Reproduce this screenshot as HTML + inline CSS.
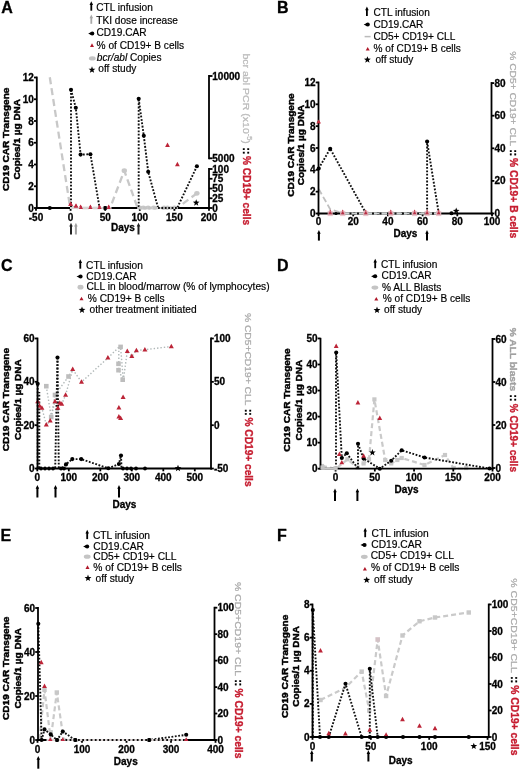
<!DOCTYPE html>
<html><head><meta charset="utf-8"><style>
html,body{margin:0;padding:0;background:#fff;width:520px;height:770px;overflow:hidden}
svg{display:block;filter:blur(0.4px)}
text{font-family:"Liberation Sans", sans-serif}
</style></head><body>
<svg width="520" height="770" viewBox="0 0 520 770" font-family='"Liberation Sans", sans-serif'>
<rect width="520" height="770" fill="#fff"/>
<text x="1.20" y="13.00" font-size="16" font-weight="bold" text-anchor="start" fill="#000"  stroke="#000" stroke-width="0.3">A</text>
<line x1="91.30" y1="3.80" x2="91.30" y2="10.70" stroke="#000" stroke-width="1.8" stroke-linecap="butt"/>
<polygon points="91.30,1.30 89.55,5.10 93.05,5.10" fill="#000"/>
<text x="96.30" y="10.60" font-size="10.15" font-weight="normal" text-anchor="start" fill="#000"  stroke="#000" stroke-width="0.18">CTL infusion</text>
<line x1="91.30" y1="16.90" x2="91.30" y2="23.80" stroke="#a8a8a8" stroke-width="1.8" stroke-linecap="butt"/>
<polygon points="91.30,14.40 89.55,18.20 93.05,18.20" fill="#a8a8a8"/>
<text x="96.30" y="23.70" font-size="10.15" font-weight="normal" text-anchor="start" fill="#000"  stroke="#000" stroke-width="0.18">TKI dose increase</text>
<path d="M88.20,33.60 L91.50,32.00 L91.50,35.20 Z" fill="#000"/>
<circle cx="92.30" cy="33.60" r="2.0" fill="#000"/>
<text x="96.50" y="36.40" font-size="10.15" font-weight="normal" text-anchor="start" fill="#000"  stroke="#000" stroke-width="0.18">CD19.CAR</text>
<polygon points="92.00,43.37 90.00,46.97 94.00,46.97" fill="#b0182a"/>
<text x="96.60" y="48.80" font-size="10.15" font-weight="normal" text-anchor="start" fill="#000"  stroke="#000" stroke-width="0.18">% of CD19+ B cells</text>
<ellipse cx="92.30" cy="58.40" rx="3.4" ry="2.1" fill="#c4c4c4"/>
<text x="96.80" y="61.20" font-size="10.15" font-weight="normal" text-anchor="start" fill="#000"  stroke="#000" stroke-width="0.18"><tspan font-style="italic">bcr/abl</tspan> Copies</text>
<polygon points="92.00,66.30 92.89,68.68 95.42,68.79 93.44,70.37 94.12,72.81 92.00,71.41 89.88,72.81 90.56,70.37 88.58,68.79 91.11,68.68" fill="#000"/>
<text x="98.30" y="72.40" font-size="10.15" font-weight="normal" text-anchor="start" fill="#000"  stroke="#000" stroke-width="0.18">off study</text>
<text transform="translate(8.90,139.30) rotate(-90)" font-size="9.3" font-weight="bold" text-anchor="middle" stroke="#000" stroke-width="0.45" textLength="103.4" lengthAdjust="spacingAndGlyphs">CD19 CAR Transgene</text>
<text transform="translate(19.90,139.30) rotate(-90)" font-size="9.3" font-weight="bold" text-anchor="middle" stroke="#000" stroke-width="0.45" textLength="80.6" lengthAdjust="spacingAndGlyphs">Copies/1 µg DNA</text>
<polyline points="49.80,77.30 70.00,206.50 77.52,208.00 110.04,208.00 124.30,170.70 137.60,208.00 177.17,208.00 196.90,193.30" fill="none" stroke="#c8c8c8" stroke-width="2.3" stroke-linecap="butt" stroke-linejoin="round" stroke-dasharray="7 4"/>
<ellipse cx="139.80" cy="207.6" rx="2.6" ry="2.0" fill="#c8c8c8"/>
<ellipse cx="143.26" cy="207.6" rx="2.6" ry="2.0" fill="#c8c8c8"/>
<ellipse cx="148.10" cy="207.6" rx="2.6" ry="2.0" fill="#c8c8c8"/>
<ellipse cx="153.64" cy="207.6" rx="2.6" ry="2.0" fill="#c8c8c8"/>
<ellipse cx="164.02" cy="207.6" rx="2.6" ry="2.0" fill="#c8c8c8"/>
<ellipse cx="167.48" cy="207.6" rx="2.6" ry="2.0" fill="#c8c8c8"/>
<ellipse cx="174.40" cy="207.6" rx="2.6" ry="2.0" fill="#c8c8c8"/>
<ellipse cx="124.3" cy="170.7" rx="2.7" ry="2.4" fill="#c8c8c8"/>
<ellipse cx="196.9" cy="193.3" rx="2.7" ry="2.4" fill="#c8c8c8"/>
<polyline points="71.00,207.00 71.00,89.80" fill="none" stroke="#111" stroke-width="1.9" stroke-linecap="butt" stroke-linejoin="round" stroke-dasharray="1.8 1.6"/>
<polyline points="71.00,89.80 75.80,107.70 80.60,154.60 90.40,154.20 99.50,207.50" fill="none" stroke="#111" stroke-width="1.9" stroke-linecap="butt" stroke-linejoin="round" stroke-dasharray="1.8 1.6"/>
<polyline points="138.70,207.00 138.70,98.80" fill="none" stroke="#111" stroke-width="1.9" stroke-linecap="butt" stroke-linejoin="round" stroke-dasharray="1.8 1.6"/>
<polyline points="138.70,98.80 143.80,135.80 148.20,171.80 158.00,207.50" fill="none" stroke="#111" stroke-width="1.9" stroke-linecap="butt" stroke-linejoin="round" stroke-dasharray="1.8 1.6"/>
<polyline points="177.40,207.50 196.90,166.30" fill="none" stroke="#111" stroke-width="1.9" stroke-linecap="butt" stroke-linejoin="round" stroke-dasharray="1.8 1.6"/>
<circle cx="71.00" cy="89.80" r="2.05" fill="#000"/>
<circle cx="75.80" cy="107.70" r="2.05" fill="#000"/>
<circle cx="80.60" cy="154.60" r="2.05" fill="#000"/>
<circle cx="90.40" cy="154.20" r="2.05" fill="#000"/>
<circle cx="138.70" cy="98.80" r="2.05" fill="#000"/>
<circle cx="143.80" cy="135.80" r="2.05" fill="#000"/>
<circle cx="148.20" cy="171.80" r="2.05" fill="#000"/>
<circle cx="196.90" cy="166.30" r="2.05" fill="#000"/>
<circle cx="49.80" cy="208.00" r="2.05" fill="#000"/>
<circle cx="105.20" cy="208.00" r="2.05" fill="#000"/>
<polygon points="70.60,201.52 68.20,205.84 73.00,205.84" fill="#bc2437"/>
<polygon points="76.00,203.32 73.60,207.64 78.40,207.64" fill="#bc2437"/>
<polygon points="80.60,204.52 78.20,208.84 83.00,208.84" fill="#bc2437"/>
<polygon points="90.40,204.52 88.00,208.84 92.80,208.84" fill="#bc2437"/>
<polygon points="99.50,204.52 97.10,208.84 101.90,208.84" fill="#bc2437"/>
<polygon points="108.70,204.52 106.30,208.84 111.10,208.84" fill="#bc2437"/>
<polygon points="167.50,142.62 165.10,146.94 169.90,146.94" fill="#bc2437"/>
<polygon points="177.40,161.82 175.00,166.14 179.80,166.14" fill="#bc2437"/>
<polygon points="196.20,199.30 197.06,201.61 199.53,201.72 197.60,203.25 198.26,205.63 196.20,204.27 194.14,205.63 194.80,203.25 192.87,201.72 195.34,201.61" fill="#000"/>
<line x1="36.80" y1="76.60" x2="36.80" y2="208.90" stroke="#000" stroke-width="1.8" stroke-linecap="butt"/>
<line x1="34.00" y1="77.50" x2="36.80" y2="77.50" stroke="#000" stroke-width="1.8" stroke-linecap="butt"/>
<text x="33.80" y="81.05" font-size="10" font-weight="bold" text-anchor="end" fill="#000"  stroke="#000" stroke-width="0.3">12</text>
<line x1="34.00" y1="99.25" x2="36.80" y2="99.25" stroke="#000" stroke-width="1.8" stroke-linecap="butt"/>
<text x="33.80" y="102.80" font-size="10" font-weight="bold" text-anchor="end" fill="#000"  stroke="#000" stroke-width="0.3">10</text>
<line x1="34.00" y1="121.00" x2="36.80" y2="121.00" stroke="#000" stroke-width="1.8" stroke-linecap="butt"/>
<text x="33.80" y="124.55" font-size="10" font-weight="bold" text-anchor="end" fill="#000"  stroke="#000" stroke-width="0.3">8</text>
<line x1="34.00" y1="142.75" x2="36.80" y2="142.75" stroke="#000" stroke-width="1.8" stroke-linecap="butt"/>
<text x="33.80" y="146.30" font-size="10" font-weight="bold" text-anchor="end" fill="#000"  stroke="#000" stroke-width="0.3">6</text>
<line x1="34.00" y1="164.50" x2="36.80" y2="164.50" stroke="#000" stroke-width="1.8" stroke-linecap="butt"/>
<text x="33.80" y="168.05" font-size="10" font-weight="bold" text-anchor="end" fill="#000"  stroke="#000" stroke-width="0.3">4</text>
<line x1="34.00" y1="186.25" x2="36.80" y2="186.25" stroke="#000" stroke-width="1.8" stroke-linecap="butt"/>
<text x="33.80" y="189.80" font-size="10" font-weight="bold" text-anchor="end" fill="#000"  stroke="#000" stroke-width="0.3">2</text>
<line x1="34.00" y1="208.00" x2="36.80" y2="208.00" stroke="#000" stroke-width="1.8" stroke-linecap="butt"/>
<text x="33.80" y="211.55" font-size="10" font-weight="bold" text-anchor="end" fill="#000"  stroke="#000" stroke-width="0.3">0</text>
<line x1="35.90" y1="208.00" x2="209.90" y2="208.00" stroke="#000" stroke-width="1.8" stroke-linecap="butt"/>
<line x1="36.00" y1="208.00" x2="36.00" y2="210.80" stroke="#000" stroke-width="1.8" stroke-linecap="butt"/>
<text x="36.00" y="220.50" font-size="10" font-weight="bold" text-anchor="middle" fill="#000"  stroke="#000" stroke-width="0.3">-50</text>
<line x1="70.60" y1="208.00" x2="70.60" y2="210.80" stroke="#000" stroke-width="1.8" stroke-linecap="butt"/>
<text x="70.60" y="220.50" font-size="10" font-weight="bold" text-anchor="middle" fill="#000"  stroke="#000" stroke-width="0.3">0</text>
<line x1="105.20" y1="208.00" x2="105.20" y2="210.80" stroke="#000" stroke-width="1.8" stroke-linecap="butt"/>
<text x="105.20" y="220.50" font-size="10" font-weight="bold" text-anchor="middle" fill="#000"  stroke="#000" stroke-width="0.3">50</text>
<line x1="139.80" y1="208.00" x2="139.80" y2="210.80" stroke="#000" stroke-width="1.8" stroke-linecap="butt"/>
<text x="139.80" y="220.50" font-size="10" font-weight="bold" text-anchor="middle" fill="#000"  stroke="#000" stroke-width="0.3">100</text>
<line x1="174.40" y1="208.00" x2="174.40" y2="210.80" stroke="#000" stroke-width="1.8" stroke-linecap="butt"/>
<text x="174.40" y="220.50" font-size="10" font-weight="bold" text-anchor="middle" fill="#000"  stroke="#000" stroke-width="0.3">150</text>
<line x1="209.00" y1="208.00" x2="209.00" y2="210.80" stroke="#000" stroke-width="1.8" stroke-linecap="butt"/>
<text x="209.00" y="220.50" font-size="10" font-weight="bold" text-anchor="middle" fill="#000"  stroke="#000" stroke-width="0.3">200</text>
<line x1="209.00" y1="75.10" x2="209.00" y2="159.20" stroke="#000" stroke-width="1.8" stroke-linecap="butt"/>
<line x1="209.00" y1="76.00" x2="212.50" y2="76.00" stroke="#000" stroke-width="1.8" stroke-linecap="butt"/>
<line x1="209.00" y1="158.30" x2="212.50" y2="158.30" stroke="#000" stroke-width="1.8" stroke-linecap="butt"/>
<text x="212.30" y="79.60" font-size="10" font-weight="bold" text-anchor="start" fill="#000"  stroke="#000" stroke-width="0.3">10000</text>
<text x="212.30" y="161.90" font-size="10" font-weight="bold" text-anchor="start" fill="#000"  stroke="#000" stroke-width="0.3">5000</text>
<line x1="209.00" y1="168.10" x2="209.00" y2="208.90" stroke="#000" stroke-width="1.8" stroke-linecap="butt"/>
<line x1="209.00" y1="169.00" x2="212.50" y2="169.00" stroke="#000" stroke-width="1.8" stroke-linecap="butt"/>
<text x="212.30" y="172.60" font-size="10" font-weight="bold" text-anchor="start" fill="#000"  stroke="#000" stroke-width="0.3">100</text>
<line x1="209.00" y1="178.75" x2="212.50" y2="178.75" stroke="#000" stroke-width="1.8" stroke-linecap="butt"/>
<text x="212.30" y="182.35" font-size="10" font-weight="bold" text-anchor="start" fill="#000"  stroke="#000" stroke-width="0.3">75</text>
<line x1="209.00" y1="188.50" x2="212.50" y2="188.50" stroke="#000" stroke-width="1.8" stroke-linecap="butt"/>
<text x="212.30" y="192.10" font-size="10" font-weight="bold" text-anchor="start" fill="#000"  stroke="#000" stroke-width="0.3">50</text>
<line x1="209.00" y1="198.25" x2="212.50" y2="198.25" stroke="#000" stroke-width="1.8" stroke-linecap="butt"/>
<text x="212.30" y="201.85" font-size="10" font-weight="bold" text-anchor="start" fill="#000"  stroke="#000" stroke-width="0.3">25</text>
<line x1="209.00" y1="208.00" x2="212.50" y2="208.00" stroke="#000" stroke-width="1.8" stroke-linecap="butt"/>
<text x="212.30" y="211.60" font-size="10" font-weight="bold" text-anchor="start" fill="#000"  stroke="#000" stroke-width="0.3">0</text>
<line x1="70.00" y1="208.00" x2="111.50" y2="208.00" stroke="#d8d2d2" stroke-width="2.0" stroke-linecap="butt"/>
<line x1="137.20" y1="208.00" x2="177.80" y2="208.00" stroke="#d0d0d0" stroke-width="2.0" stroke-linecap="butt"/>
<ellipse cx="140.50" cy="208" rx="2.2" ry="1.7" fill="#c4c4c4"/>
<ellipse cx="145.00" cy="208" rx="2.2" ry="1.7" fill="#c4c4c4"/>
<ellipse cx="149.50" cy="208" rx="2.2" ry="1.7" fill="#c4c4c4"/>
<ellipse cx="155.00" cy="208" rx="2.2" ry="1.7" fill="#c4c4c4"/>
<ellipse cx="163.00" cy="208" rx="2.2" ry="1.7" fill="#c4c4c4"/>
<ellipse cx="167.00" cy="208" rx="2.2" ry="1.7" fill="#c4c4c4"/>
<ellipse cx="171.00" cy="208" rx="2.2" ry="1.7" fill="#c4c4c4"/>
<polyline points="158.00,208.00 177.40,208.00" fill="none" stroke="#111" stroke-width="1.9" stroke-linecap="butt" stroke-linejoin="round" stroke-dasharray="1.8 1.6"/>
<circle cx="105.20" cy="208.00" r="1.9" fill="#000"/>
<polygon points="70.60,201.80 68.45,205.67 72.75,205.67" fill="#c02840"/>
<polygon points="76.00,203.90 73.85,207.77 78.15,207.77" fill="#c02840"/>
<polygon points="80.90,205.20 78.75,209.07 83.05,209.07" fill="#c02840"/>
<polygon points="90.40,205.20 88.25,209.07 92.55,209.07" fill="#c02840"/>
<polygon points="99.50,205.20 97.35,209.07 101.65,209.07" fill="#c02840"/>
<polygon points="108.70,205.20 106.55,209.07 110.85,209.07" fill="#c02840"/>
<text transform="translate(243.20,53.40) rotate(90)" font-size="9.8" font-weight="normal" fill="#bababa" stroke="#bababa" stroke-width="0.25" textLength="90.40" lengthAdjust="spacingAndGlyphs">bcr abl PCR (x10<tspan font-size="6.8" dy="-3.4">-5</tspan><tspan dy="3.4">)</tspan></text>
<text transform="translate(243.20,147.60) rotate(90)" font-size="10" font-weight="bold" fill="#000" stroke="#000" stroke-width="0.35">::</text>
<text transform="translate(243.20,155.90) rotate(90)" font-size="10" font-weight="bold" fill="#c61d30" stroke="#c61d30" stroke-width="0.35" textLength="69.30" lengthAdjust="spacingAndGlyphs">% CD19+ cells</text>
<text x="111.00" y="231.20" font-size="10" font-weight="bold" text-anchor="start" fill="#000"  stroke="#000" stroke-width="0.3">Days</text>
<line x1="71.00" y1="225.30" x2="71.00" y2="234.50" stroke="#222" stroke-width="2.0" stroke-linecap="butt"/>
<polygon points="71.00,222.80 69.25,226.60 72.75,226.60" fill="#222"/>
<line x1="75.90" y1="225.30" x2="75.90" y2="234.50" stroke="#a0a0a0" stroke-width="2.0" stroke-linecap="butt"/>
<polygon points="75.90,222.80 74.15,226.60 77.65,226.60" fill="#a0a0a0"/>
<line x1="138.50" y1="225.30" x2="138.50" y2="234.50" stroke="#222" stroke-width="2.0" stroke-linecap="butt"/>
<polygon points="138.50,222.80 136.75,226.60 140.25,226.60" fill="#222"/>
<text x="277.10" y="12.80" font-size="16" font-weight="bold" text-anchor="start" fill="#000"  stroke="#000" stroke-width="0.3">B</text>
<line x1="366.90" y1="9.00" x2="366.90" y2="15.90" stroke="#000" stroke-width="1.8" stroke-linecap="butt"/>
<polygon points="366.90,6.50 365.15,10.30 368.65,10.30" fill="#000"/>
<text x="373.50" y="15.80" font-size="10.1" font-weight="normal" text-anchor="start" fill="#000"  stroke="#000" stroke-width="0.18">CTL infusion</text>
<path d="M363.70,24.60 L367.00,23.00 L367.00,26.20 Z" fill="#000"/>
<circle cx="367.80" cy="24.60" r="2.0" fill="#000"/>
<text x="373.40" y="27.60" font-size="10.1" font-weight="normal" text-anchor="start" fill="#000"  stroke="#000" stroke-width="0.18">CD19.CAR</text>
<line x1="364.60" y1="36.60" x2="370.60" y2="36.60" stroke="#bbbbbb" stroke-width="1.5" stroke-linecap="butt"/>
<text x="373.40" y="39.60" font-size="10.1" font-weight="normal" text-anchor="start" fill="#000"  stroke="#000" stroke-width="0.18">CD5+ CD19+ CLL</text>
<polygon points="367.70,46.97 365.70,50.57 369.70,50.57" fill="#b0182a"/>
<text x="373.60" y="51.60" font-size="10.1" font-weight="normal" text-anchor="start" fill="#000"  stroke="#000" stroke-width="0.18">% of CD19+ B cells</text>
<polygon points="367.40,56.20 368.29,58.58 370.82,58.69 368.84,60.27 369.52,62.71 367.40,61.31 365.28,62.71 365.96,60.27 363.98,58.69 366.51,58.58" fill="#000"/>
<text x="375.40" y="63.20" font-size="10.1" font-weight="normal" text-anchor="start" fill="#000"  stroke="#000" stroke-width="0.18">off study</text>
<text transform="translate(293.60,145.00) rotate(-90)" font-size="9.3" font-weight="bold" text-anchor="middle" stroke="#000" stroke-width="0.45" textLength="103.4" lengthAdjust="spacingAndGlyphs">CD19 CAR Transgene</text>
<text transform="translate(304.40,145.00) rotate(-90)" font-size="9.3" font-weight="bold" text-anchor="middle" stroke="#000" stroke-width="0.45" textLength="80.6" lengthAdjust="spacingAndGlyphs">Copies/1 µg DNA</text>
<polyline points="318.70,189.00 330.20,209.20 342.00,213.00" fill="none" stroke="#c0c0c0" stroke-width="1.8" stroke-linecap="butt" stroke-linejoin="round" stroke-dasharray="6 3"/>
<polyline points="318.70,168.50 330.20,148.70 365.80,213.00" fill="none" stroke="#111" stroke-width="1.9" stroke-linecap="butt" stroke-linejoin="round" stroke-dasharray="1.8 1.6"/>
<polyline points="427.10,213.00 427.10,141.50" fill="none" stroke="#111" stroke-width="1.9" stroke-linecap="butt" stroke-linejoin="round" stroke-dasharray="1.8 1.6"/>
<polyline points="427.10,141.50 438.70,213.00" fill="none" stroke="#111" stroke-width="1.9" stroke-linecap="butt" stroke-linejoin="round" stroke-dasharray="1.8 1.6"/>
<polygon points="330.20,209.52 327.80,213.84 332.60,213.84" fill="#bc2437"/>
<polygon points="342.70,209.52 340.30,213.84 345.10,213.84" fill="#bc2437"/>
<polygon points="365.80,209.52 363.40,213.84 368.20,213.84" fill="#bc2437"/>
<polygon points="390.80,209.52 388.40,213.84 393.20,213.84" fill="#bc2437"/>
<polygon points="414.60,209.52 412.20,213.84 417.00,213.84" fill="#bc2437"/>
<polygon points="427.10,209.52 424.70,213.84 429.50,213.84" fill="#bc2437"/>
<polygon points="438.70,209.52 436.30,213.84 441.10,213.84" fill="#bc2437"/>
<polygon points="318.50,119.66 316.40,123.44 320.60,123.44" fill="#bc2437"/>
<circle cx="336.00" cy="213.50" r="1.6" fill="#000"/>
<circle cx="354.20" cy="213.50" r="1.6" fill="#000"/>
<circle cx="378.00" cy="213.50" r="1.6" fill="#000"/>
<circle cx="402.00" cy="213.50" r="1.6" fill="#000"/>
<circle cx="408.00" cy="213.50" r="1.6" fill="#000"/>
<circle cx="420.00" cy="213.50" r="1.6" fill="#000"/>
<circle cx="433.00" cy="213.50" r="1.6" fill="#000"/>
<circle cx="451.50" cy="213.50" r="1.6" fill="#000"/>
<circle cx="318.70" cy="168.50" r="2.05" fill="#000"/>
<circle cx="330.20" cy="148.70" r="2.05" fill="#000"/>
<circle cx="427.10" cy="141.50" r="2.05" fill="#000"/>
<circle cx="451.50" cy="213.20" r="2.05" fill="#000"/>
<polygon points="456.20,207.50 457.06,209.81 459.53,209.92 457.60,211.45 458.26,213.83 456.20,212.47 454.14,213.83 454.80,211.45 452.87,209.92 455.34,209.81" fill="#000"/>
<line x1="318.50" y1="81.60" x2="318.50" y2="214.40" stroke="#000" stroke-width="1.8" stroke-linecap="butt"/>
<line x1="315.70" y1="82.46" x2="318.50" y2="82.46" stroke="#000" stroke-width="1.8" stroke-linecap="butt"/>
<text x="315.50" y="86.01" font-size="10" font-weight="bold" text-anchor="end" fill="#000"  stroke="#000" stroke-width="0.3">12</text>
<line x1="315.70" y1="104.30" x2="318.50" y2="104.30" stroke="#000" stroke-width="1.8" stroke-linecap="butt"/>
<text x="315.50" y="107.85" font-size="10" font-weight="bold" text-anchor="end" fill="#000"  stroke="#000" stroke-width="0.3">10</text>
<line x1="315.70" y1="126.14" x2="318.50" y2="126.14" stroke="#000" stroke-width="1.8" stroke-linecap="butt"/>
<text x="315.50" y="129.69" font-size="10" font-weight="bold" text-anchor="end" fill="#000"  stroke="#000" stroke-width="0.3">8</text>
<line x1="315.70" y1="147.98" x2="318.50" y2="147.98" stroke="#000" stroke-width="1.8" stroke-linecap="butt"/>
<text x="315.50" y="151.53" font-size="10" font-weight="bold" text-anchor="end" fill="#000"  stroke="#000" stroke-width="0.3">6</text>
<line x1="315.70" y1="169.82" x2="318.50" y2="169.82" stroke="#000" stroke-width="1.8" stroke-linecap="butt"/>
<text x="315.50" y="173.37" font-size="10" font-weight="bold" text-anchor="end" fill="#000"  stroke="#000" stroke-width="0.3">4</text>
<line x1="315.70" y1="191.66" x2="318.50" y2="191.66" stroke="#000" stroke-width="1.8" stroke-linecap="butt"/>
<text x="315.50" y="195.21" font-size="10" font-weight="bold" text-anchor="end" fill="#000"  stroke="#000" stroke-width="0.3">2</text>
<line x1="315.70" y1="213.50" x2="318.50" y2="213.50" stroke="#000" stroke-width="1.8" stroke-linecap="butt"/>
<text x="315.50" y="217.05" font-size="10" font-weight="bold" text-anchor="end" fill="#000"  stroke="#000" stroke-width="0.3">0</text>
<line x1="317.60" y1="213.50" x2="492.90" y2="213.50" stroke="#000" stroke-width="1.8" stroke-linecap="butt"/>
<line x1="318.50" y1="213.50" x2="318.50" y2="216.30" stroke="#000" stroke-width="1.8" stroke-linecap="butt"/>
<text x="318.50" y="225.40" font-size="10" font-weight="bold" text-anchor="middle" fill="#000"  stroke="#000" stroke-width="0.3">0</text>
<line x1="353.20" y1="213.50" x2="353.20" y2="216.30" stroke="#000" stroke-width="1.8" stroke-linecap="butt"/>
<text x="353.20" y="225.40" font-size="10" font-weight="bold" text-anchor="middle" fill="#000"  stroke="#000" stroke-width="0.3">20</text>
<line x1="387.90" y1="213.50" x2="387.90" y2="216.30" stroke="#000" stroke-width="1.8" stroke-linecap="butt"/>
<text x="387.90" y="225.40" font-size="10" font-weight="bold" text-anchor="middle" fill="#000"  stroke="#000" stroke-width="0.3">40</text>
<line x1="422.60" y1="213.50" x2="422.60" y2="216.30" stroke="#000" stroke-width="1.8" stroke-linecap="butt"/>
<text x="422.60" y="225.40" font-size="10" font-weight="bold" text-anchor="middle" fill="#000"  stroke="#000" stroke-width="0.3">60</text>
<line x1="457.30" y1="213.50" x2="457.30" y2="216.30" stroke="#000" stroke-width="1.8" stroke-linecap="butt"/>
<text x="457.30" y="225.40" font-size="10" font-weight="bold" text-anchor="middle" fill="#000"  stroke="#000" stroke-width="0.3">80</text>
<line x1="492.00" y1="213.50" x2="492.00" y2="216.30" stroke="#000" stroke-width="1.8" stroke-linecap="butt"/>
<text x="492.00" y="225.40" font-size="10" font-weight="bold" text-anchor="middle" fill="#000"  stroke="#000" stroke-width="0.3">100</text>
<line x1="491.50" y1="82.10" x2="491.50" y2="214.40" stroke="#000" stroke-width="1.8" stroke-linecap="butt"/>
<line x1="491.50" y1="83.10" x2="494.30" y2="83.10" stroke="#000" stroke-width="1.8" stroke-linecap="butt"/>
<text x="494.40" y="86.65" font-size="10" font-weight="bold" text-anchor="start" fill="#000"  stroke="#000" stroke-width="0.3">80</text>
<line x1="491.50" y1="115.70" x2="494.30" y2="115.70" stroke="#000" stroke-width="1.8" stroke-linecap="butt"/>
<text x="494.40" y="119.25" font-size="10" font-weight="bold" text-anchor="start" fill="#000"  stroke="#000" stroke-width="0.3">60</text>
<line x1="491.50" y1="148.30" x2="494.30" y2="148.30" stroke="#000" stroke-width="1.8" stroke-linecap="butt"/>
<text x="494.40" y="151.85" font-size="10" font-weight="bold" text-anchor="start" fill="#000"  stroke="#000" stroke-width="0.3">40</text>
<line x1="491.50" y1="180.90" x2="494.30" y2="180.90" stroke="#000" stroke-width="1.8" stroke-linecap="butt"/>
<text x="494.40" y="184.45" font-size="10" font-weight="bold" text-anchor="start" fill="#000"  stroke="#000" stroke-width="0.3">20</text>
<line x1="491.50" y1="213.50" x2="494.30" y2="213.50" stroke="#000" stroke-width="1.8" stroke-linecap="butt"/>
<text x="494.40" y="217.05" font-size="10" font-weight="bold" text-anchor="start" fill="#000"  stroke="#000" stroke-width="0.3">0</text>
<polygon points="318.70,119.46 316.60,123.24 320.80,123.24" fill="#c83040"/>
<line x1="340.50" y1="213.50" x2="441.00" y2="213.50" stroke="#cfd4d4" stroke-width="2.0" stroke-linecap="butt"/>
<polyline points="342.00,213.50 440.00,213.50" fill="none" stroke="#111" stroke-width="1.9" stroke-linecap="butt" stroke-linejoin="round" stroke-dasharray="2 5.5"/>
<rect x="327.60" y="210.9" width="5.2" height="5.2" fill="#e8b8c0" opacity="0.8"/>
<polygon points="330.20,210.88 328.30,214.30 332.10,214.30" fill="#b83045"/>
<rect x="340.10" y="210.9" width="5.2" height="5.2" fill="#e8b8c0" opacity="0.8"/>
<polygon points="342.70,210.88 340.80,214.30 344.60,214.30" fill="#b83045"/>
<rect x="363.20" y="210.9" width="5.2" height="5.2" fill="#e8b8c0" opacity="0.8"/>
<polygon points="365.80,210.88 363.90,214.30 367.70,214.30" fill="#b83045"/>
<rect x="388.20" y="210.9" width="5.2" height="5.2" fill="#e8b8c0" opacity="0.8"/>
<polygon points="390.80,210.88 388.90,214.30 392.70,214.30" fill="#b83045"/>
<rect x="412.00" y="210.9" width="5.2" height="5.2" fill="#e8b8c0" opacity="0.8"/>
<polygon points="414.60,210.88 412.70,214.30 416.50,214.30" fill="#b83045"/>
<rect x="424.50" y="210.9" width="5.2" height="5.2" fill="#e8b8c0" opacity="0.8"/>
<polygon points="427.10,210.88 425.20,214.30 429.00,214.30" fill="#b83045"/>
<rect x="436.10" y="210.9" width="5.2" height="5.2" fill="#e8b8c0" opacity="0.8"/>
<polygon points="438.70,210.88 436.80,214.30 440.60,214.30" fill="#b83045"/>
<text transform="translate(510.30,51.20) rotate(90)" font-size="9.3" font-weight="normal" fill="#ababab" stroke="#ababab" stroke-width="0.25" textLength="95.00" lengthAdjust="spacingAndGlyphs">% CD5+ CD19+ CLL</text>
<text transform="translate(510.30,149.50) rotate(90)" font-size="10" font-weight="bold" fill="#000" stroke="#000" stroke-width="0.35">::</text>
<text transform="translate(510.30,158.00) rotate(90)" font-size="10" font-weight="bold" fill="#c61d30" stroke="#c61d30" stroke-width="0.35" textLength="80.30" lengthAdjust="spacingAndGlyphs">% CD19+ B cells</text>
<text x="393.50" y="237.00" font-size="10" font-weight="bold" text-anchor="start" fill="#000"  stroke="#000" stroke-width="0.3">Days</text>
<line x1="318.90" y1="232.50" x2="318.90" y2="240.60" stroke="#000" stroke-width="2.0" stroke-linecap="butt"/>
<polygon points="318.90,230.00 317.15,233.80 320.65,233.80" fill="#000"/>
<line x1="427.00" y1="232.50" x2="427.00" y2="240.60" stroke="#000" stroke-width="2.0" stroke-linecap="butt"/>
<polygon points="427.00,230.00 425.25,233.80 428.75,233.80" fill="#000"/>
<text x="0.90" y="271.30" font-size="16" font-weight="bold" text-anchor="start" fill="#000"  stroke="#000" stroke-width="0.3">C</text>
<line x1="80.30" y1="261.80" x2="80.30" y2="268.70" stroke="#000" stroke-width="1.8" stroke-linecap="butt"/>
<polygon points="80.30,259.30 78.55,263.10 82.05,263.10" fill="#000"/>
<text x="86.10" y="268.60" font-size="10.2" font-weight="normal" text-anchor="start" fill="#000"  stroke="#000" stroke-width="0.18">CTL infusion</text>
<path d="M76.50,276.50 L79.80,274.90 L79.80,278.10 Z" fill="#000"/>
<circle cx="80.60" cy="276.50" r="2.0" fill="#000"/>
<text x="86.30" y="279.70" font-size="10.2" font-weight="normal" text-anchor="start" fill="#000"  stroke="#000" stroke-width="0.18">CD19.CAR</text>
<ellipse cx="80.50" cy="287.20" rx="3.0" ry="2.4" fill="#c4c4c4"/>
<text x="86.50" y="290.30" font-size="10.2" font-weight="normal" text-anchor="start" fill="#000"  stroke="#000" stroke-width="0.18">CLL in blood/marrow (% of lymphocytes)</text>
<polygon points="81.50,296.77 79.50,300.37 83.50,300.37" fill="#b0182a"/>
<text x="87.80" y="302.40" font-size="10.2" font-weight="normal" text-anchor="start" fill="#000"  stroke="#000" stroke-width="0.18">% CD19+ B cells</text>
<polygon points="82.00,306.40 82.89,308.78 85.42,308.89 83.44,310.47 84.12,312.91 82.00,311.51 79.88,312.91 80.56,310.47 78.58,308.89 81.11,308.78" fill="#000"/>
<text x="89.60" y="313.10" font-size="10.2" font-weight="normal" text-anchor="start" fill="#000"  stroke="#000" stroke-width="0.18">other treatment initiated</text>
<text transform="translate(9.10,399.60) rotate(-90)" font-size="9.3" font-weight="bold" text-anchor="middle" stroke="#000" stroke-width="0.45" textLength="103.4" lengthAdjust="spacingAndGlyphs">CD19 CAR Transgene</text>
<text transform="translate(20.90,399.60) rotate(-90)" font-size="9.3" font-weight="bold" text-anchor="middle" stroke="#000" stroke-width="0.45" textLength="80.6" lengthAdjust="spacingAndGlyphs">Copies/1 µg DNA</text>
<polyline points="37.70,401.50 39.60,406.00 41.90,408.00 46.30,424.80 50.20,420.80 55.00,401.50 57.90,408.00 59.80,403.00 61.70,404.00 65.60,395.00 72.70,369.40 81.50,382.00 107.90,357.90 118.80,347.30" fill="none" stroke="#b0b8b8" stroke-width="1.4" stroke-linecap="butt" stroke-linejoin="round" stroke-dasharray="1.4 2.0"/>
<polyline points="46.30,386.20 51.20,417.00 55.00,395.00 68.50,376.50 72.70,369.40" fill="none" stroke="#b0b8b8" stroke-width="1.4" stroke-linecap="butt" stroke-linejoin="round" stroke-dasharray="1.4 2.0"/>
<polyline points="118.80,347.30 118.80,363.70 118.80,370.40 123.30,380.40 120.60,346.90" fill="none" stroke="#b0b8b8" stroke-width="1.4" stroke-linecap="butt" stroke-linejoin="round" stroke-dasharray="1.4 2.0"/>
<polyline points="123.30,380.40 127.30,351.20 131.80,356.40 136.40,350.50 144.90,349.70 171.30,346.50" fill="none" stroke="#b0b8b8" stroke-width="1.4" stroke-linecap="butt" stroke-linejoin="round" stroke-dasharray="1.4 2.0"/>
<rect x="44.00" y="383.90" width="4.6" height="4.6" fill="#bdbdbd"/>
<rect x="48.90" y="414.70" width="4.6" height="4.6" fill="#bdbdbd"/>
<rect x="52.70" y="392.70" width="4.6" height="4.6" fill="#bdbdbd"/>
<rect x="66.20" y="374.20" width="4.6" height="4.6" fill="#bdbdbd"/>
<rect x="118.30" y="344.60" width="4.6" height="4.6" fill="#bdbdbd"/>
<rect x="116.20" y="361.50" width="4.6" height="4.6" fill="#bdbdbd"/>
<rect x="116.20" y="367.90" width="4.6" height="4.6" fill="#bdbdbd"/>
<rect x="120.40" y="377.40" width="4.6" height="4.6" fill="#bdbdbd"/>
<polyline points="37.70,468.00 37.70,383.80" fill="none" stroke="#111" stroke-width="1.9" stroke-linecap="butt" stroke-linejoin="round" stroke-dasharray="1.8 1.6"/>
<polyline points="39.30,468.00 39.30,392.00" fill="none" stroke="#111" stroke-width="1.9" stroke-linecap="butt" stroke-linejoin="round" stroke-dasharray="1.8 1.6"/>
<polyline points="55.20,468.00 57.50,357.50" fill="none" stroke="#111" stroke-width="1.9" stroke-linecap="butt" stroke-linejoin="round" stroke-dasharray="1.8 1.6"/>
<polyline points="58.80,468.00 57.50,357.50" fill="none" stroke="#111" stroke-width="1.9" stroke-linecap="butt" stroke-linejoin="round" stroke-dasharray="1.8 1.6"/>
<polyline points="62.00,468.00 66.00,464.40 72.30,459.10 81.20,459.10 108.30,468.30 118.90,464.00 121.00,455.50 121.50,468.00" fill="none" stroke="#111" stroke-width="1.9" stroke-linecap="butt" stroke-linejoin="round" stroke-dasharray="1.8 1.6"/>
<circle cx="37.70" cy="383.80" r="2.05" fill="#000"/>
<circle cx="57.50" cy="357.50" r="2.05" fill="#000"/>
<circle cx="66.00" cy="464.40" r="2.05" fill="#000"/>
<circle cx="72.30" cy="459.10" r="2.05" fill="#000"/>
<circle cx="81.20" cy="459.10" r="2.05" fill="#000"/>
<circle cx="108.30" cy="468.30" r="2.05" fill="#000"/>
<circle cx="118.90" cy="464.00" r="2.05" fill="#000"/>
<circle cx="121.00" cy="455.50" r="2.05" fill="#000"/>
<circle cx="41.00" cy="468.50" r="1.9" fill="#000"/>
<circle cx="45.00" cy="468.50" r="1.9" fill="#000"/>
<circle cx="49.00" cy="468.50" r="1.9" fill="#000"/>
<circle cx="53.00" cy="468.50" r="1.9" fill="#000"/>
<circle cx="61.00" cy="468.50" r="1.9" fill="#000"/>
<circle cx="64.00" cy="468.50" r="1.9" fill="#000"/>
<circle cx="123.00" cy="468.50" r="1.9" fill="#000"/>
<circle cx="127.00" cy="468.50" r="1.9" fill="#000"/>
<circle cx="131.00" cy="468.50" r="1.9" fill="#000"/>
<circle cx="136.00" cy="468.50" r="1.9" fill="#000"/>
<circle cx="145.00" cy="468.50" r="1.9" fill="#000"/>
<polygon points="37.70,398.71 35.20,403.21 40.20,403.21" fill="#bc2437"/>
<polygon points="39.60,403.21 37.10,407.71 42.10,407.71" fill="#bc2437"/>
<polygon points="41.90,405.21 39.40,409.71 44.40,409.71" fill="#bc2437"/>
<polygon points="46.30,422.01 43.80,426.51 48.80,426.51" fill="#bc2437"/>
<polygon points="50.20,418.01 47.70,422.51 52.70,422.51" fill="#bc2437"/>
<polygon points="55.00,398.71 52.50,403.21 57.50,403.21" fill="#bc2437"/>
<polygon points="57.90,405.21 55.40,409.71 60.40,409.71" fill="#bc2437"/>
<polygon points="59.80,400.21 57.30,404.71 62.30,404.71" fill="#bc2437"/>
<polygon points="61.70,401.21 59.20,405.71 64.20,405.71" fill="#bc2437"/>
<polygon points="65.60,392.21 63.10,396.71 68.10,396.71" fill="#bc2437"/>
<polygon points="72.70,366.61 70.20,371.11 75.20,371.11" fill="#bc2437"/>
<polygon points="81.50,379.21 79.00,383.71 84.00,383.71" fill="#bc2437"/>
<polygon points="107.90,355.11 105.40,359.61 110.40,359.61" fill="#bc2437"/>
<polygon points="127.30,348.41 124.80,352.91 129.80,352.91" fill="#bc2437"/>
<polygon points="131.80,353.61 129.30,358.11 134.30,358.11" fill="#bc2437"/>
<polygon points="136.40,347.71 133.90,352.21 138.90,352.21" fill="#bc2437"/>
<polygon points="144.90,346.91 142.40,351.41 147.40,351.41" fill="#bc2437"/>
<polygon points="171.30,343.71 168.80,348.21 173.80,348.21" fill="#bc2437"/>
<polygon points="123.10,394.51 120.60,399.01 125.60,399.01" fill="#bc2437"/>
<polygon points="118.90,405.01 116.40,409.51 121.40,409.51" fill="#bc2437"/>
<polygon points="118.90,413.91 116.40,418.41 121.40,418.41" fill="#bc2437"/>
<polygon points="120.60,415.61 118.10,420.11 123.10,420.11" fill="#bc2437"/>
<polygon points="178.00,464.70 178.89,467.08 181.42,467.19 179.44,468.77 180.12,471.21 178.00,469.81 175.88,471.21 176.56,468.77 174.58,467.19 177.11,467.08" fill="#000"/>
<line x1="37.50" y1="337.60" x2="37.50" y2="469.40" stroke="#000" stroke-width="1.8" stroke-linecap="butt"/>
<line x1="34.70" y1="338.48" x2="37.50" y2="338.48" stroke="#000" stroke-width="1.8" stroke-linecap="butt"/>
<text x="34.50" y="342.03" font-size="10" font-weight="bold" text-anchor="end" fill="#000"  stroke="#000" stroke-width="0.3">60</text>
<line x1="34.70" y1="381.82" x2="37.50" y2="381.82" stroke="#000" stroke-width="1.8" stroke-linecap="butt"/>
<text x="34.50" y="385.37" font-size="10" font-weight="bold" text-anchor="end" fill="#000"  stroke="#000" stroke-width="0.3">40</text>
<line x1="34.70" y1="425.16" x2="37.50" y2="425.16" stroke="#000" stroke-width="1.8" stroke-linecap="butt"/>
<text x="34.50" y="428.71" font-size="10" font-weight="bold" text-anchor="end" fill="#000"  stroke="#000" stroke-width="0.3">20</text>
<line x1="34.70" y1="468.50" x2="37.50" y2="468.50" stroke="#000" stroke-width="1.8" stroke-linecap="butt"/>
<text x="34.50" y="472.05" font-size="10" font-weight="bold" text-anchor="end" fill="#000"  stroke="#000" stroke-width="0.3">0</text>
<line x1="36.60" y1="468.50" x2="211.90" y2="468.50" stroke="#000" stroke-width="1.8" stroke-linecap="butt"/>
<line x1="37.30" y1="468.50" x2="37.30" y2="471.30" stroke="#000" stroke-width="1.8" stroke-linecap="butt"/>
<text x="37.30" y="481.20" font-size="10" font-weight="bold" text-anchor="middle" fill="#000"  stroke="#000" stroke-width="0.3">0</text>
<line x1="68.80" y1="468.50" x2="68.80" y2="471.30" stroke="#000" stroke-width="1.8" stroke-linecap="butt"/>
<text x="68.80" y="481.20" font-size="10" font-weight="bold" text-anchor="middle" fill="#000"  stroke="#000" stroke-width="0.3">100</text>
<line x1="100.30" y1="468.50" x2="100.30" y2="471.30" stroke="#000" stroke-width="1.8" stroke-linecap="butt"/>
<text x="100.30" y="481.20" font-size="10" font-weight="bold" text-anchor="middle" fill="#000"  stroke="#000" stroke-width="0.3">200</text>
<line x1="131.80" y1="468.50" x2="131.80" y2="471.30" stroke="#000" stroke-width="1.8" stroke-linecap="butt"/>
<text x="131.80" y="481.20" font-size="10" font-weight="bold" text-anchor="middle" fill="#000"  stroke="#000" stroke-width="0.3">300</text>
<line x1="163.30" y1="468.50" x2="163.30" y2="471.30" stroke="#000" stroke-width="1.8" stroke-linecap="butt"/>
<text x="163.30" y="481.20" font-size="10" font-weight="bold" text-anchor="middle" fill="#000"  stroke="#000" stroke-width="0.3">400</text>
<line x1="194.80" y1="468.50" x2="194.80" y2="471.30" stroke="#000" stroke-width="1.8" stroke-linecap="butt"/>
<text x="194.80" y="481.20" font-size="10" font-weight="bold" text-anchor="middle" fill="#000"  stroke="#000" stroke-width="0.3">500</text>
<line x1="211.00" y1="337.60" x2="211.00" y2="469.40" stroke="#000" stroke-width="1.8" stroke-linecap="butt"/>
<line x1="211.00" y1="338.50" x2="213.80" y2="338.50" stroke="#000" stroke-width="1.8" stroke-linecap="butt"/>
<text x="213.90" y="342.05" font-size="10" font-weight="bold" text-anchor="start" fill="#000"  stroke="#000" stroke-width="0.3">100</text>
<line x1="211.00" y1="381.85" x2="213.80" y2="381.85" stroke="#000" stroke-width="1.8" stroke-linecap="butt"/>
<text x="213.90" y="385.40" font-size="10" font-weight="bold" text-anchor="start" fill="#000"  stroke="#000" stroke-width="0.3">50</text>
<line x1="211.00" y1="425.20" x2="213.80" y2="425.20" stroke="#000" stroke-width="1.8" stroke-linecap="butt"/>
<text x="213.90" y="428.75" font-size="10" font-weight="bold" text-anchor="start" fill="#000"  stroke="#000" stroke-width="0.3">0</text>
<line x1="211.00" y1="468.55" x2="213.80" y2="468.55" stroke="#000" stroke-width="1.8" stroke-linecap="butt"/>
<text x="213.90" y="472.10" font-size="10" font-weight="bold" text-anchor="start" fill="#000"  stroke="#000" stroke-width="0.3">-50</text>
<text transform="translate(244.60,312.90) rotate(90)" font-size="9.3" font-weight="normal" fill="#ababab" stroke="#ababab" stroke-width="0.25" textLength="92.50" lengthAdjust="spacingAndGlyphs">% CD5+CD19+ CLL</text>
<text transform="translate(244.60,408.90) rotate(90)" font-size="10" font-weight="bold" fill="#000" stroke="#000" stroke-width="0.35">::</text>
<text transform="translate(244.60,417.50) rotate(90)" font-size="10" font-weight="bold" fill="#c61d30" stroke="#c61d30" stroke-width="0.35" textLength="69.10" lengthAdjust="spacingAndGlyphs">% CD19+ cells</text>
<text x="112.50" y="507.60" font-size="10" font-weight="bold" text-anchor="start" fill="#000"  stroke="#000" stroke-width="0.3">Days</text>
<line x1="37.40" y1="487.50" x2="37.40" y2="497.50" stroke="#000" stroke-width="2.0" stroke-linecap="butt"/>
<polygon points="37.40,485.00 35.65,488.80 39.15,488.80" fill="#000"/>
<line x1="55.50" y1="487.50" x2="55.50" y2="497.50" stroke="#000" stroke-width="2.0" stroke-linecap="butt"/>
<polygon points="55.50,485.00 53.75,488.80 57.25,488.80" fill="#000"/>
<line x1="119.00" y1="487.50" x2="119.00" y2="497.50" stroke="#000" stroke-width="2.0" stroke-linecap="butt"/>
<polygon points="119.00,485.00 117.25,488.80 120.75,488.80" fill="#000"/>
<text x="277.10" y="271.20" font-size="16" font-weight="bold" text-anchor="start" fill="#000"  stroke="#000" stroke-width="0.3">D</text>
<line x1="375.20" y1="261.30" x2="375.20" y2="268.20" stroke="#000" stroke-width="1.8" stroke-linecap="butt"/>
<polygon points="375.20,258.80 373.45,262.60 376.95,262.60" fill="#000"/>
<text x="380.90" y="268.10" font-size="10.15" font-weight="normal" text-anchor="start" fill="#000"  stroke="#000" stroke-width="0.18">CTL infusion</text>
<path d="M371.10,276.30 L374.40,274.70 L374.40,277.90 Z" fill="#000"/>
<circle cx="375.20" cy="276.30" r="2.0" fill="#000"/>
<text x="381.60" y="279.30" font-size="10.15" font-weight="normal" text-anchor="start" fill="#000"  stroke="#000" stroke-width="0.18">CD19.CAR</text>
<ellipse cx="374.90" cy="287.60" rx="3.4" ry="2.1" fill="#c4c4c4"/>
<text x="382.00" y="290.90" font-size="10.15" font-weight="normal" text-anchor="start" fill="#000"  stroke="#000" stroke-width="0.18">% ALL Blasts</text>
<polygon points="376.30,296.97 374.30,300.57 378.30,300.57" fill="#b0182a"/>
<text x="382.80" y="302.40" font-size="10.15" font-weight="normal" text-anchor="start" fill="#000"  stroke="#000" stroke-width="0.18">% of CD19+ B cells</text>
<polygon points="377.00,306.60 377.89,308.98 380.42,309.09 378.44,310.67 379.12,313.11 377.00,311.71 374.88,313.11 375.56,310.67 373.58,309.09 376.11,308.98" fill="#000"/>
<text x="384.10" y="313.40" font-size="10.15" font-weight="normal" text-anchor="start" fill="#000"  stroke="#000" stroke-width="0.18">off study</text>
<text transform="translate(289.90,400.10) rotate(-90)" font-size="9.3" font-weight="bold" text-anchor="middle" stroke="#000" stroke-width="0.45" textLength="103.4" lengthAdjust="spacingAndGlyphs">CD19 CAR Transgene</text>
<text transform="translate(301.80,400.10) rotate(-90)" font-size="9.3" font-weight="bold" text-anchor="middle" stroke="#000" stroke-width="0.45" textLength="80.6" lengthAdjust="spacingAndGlyphs">Copies/1 µg DNA</text>
<polyline points="322.00,466.00 336.00,468.70 347.50,459.30 357.60,468.00 363.60,463.40 369.00,459.30 374.40,399.40 385.20,460.00 391.20,463.40 397.30,460.00 401.70,458.00 424.50,465.00 445.00,455.00 453.70,468.50 466.20,468.50" fill="none" stroke="#cacaca" stroke-width="2.2" stroke-linecap="butt" stroke-linejoin="round" stroke-dasharray="5 3"/>
<rect x="319.90" y="463.90" width="4.2" height="4.2" fill="#c8c8c8"/>
<rect x="345.40" y="457.20" width="4.2" height="4.2" fill="#c8c8c8"/>
<rect x="355.50" y="465.40" width="4.2" height="4.2" fill="#c8c8c8"/>
<rect x="361.50" y="461.30" width="4.2" height="4.2" fill="#c8c8c8"/>
<rect x="366.90" y="457.20" width="4.2" height="4.2" fill="#c8c8c8"/>
<rect x="372.30" y="397.30" width="4.2" height="4.2" fill="#c8c8c8"/>
<rect x="383.10" y="457.90" width="4.2" height="4.2" fill="#c8c8c8"/>
<rect x="389.10" y="461.30" width="4.2" height="4.2" fill="#c8c8c8"/>
<rect x="395.20" y="457.90" width="4.2" height="4.2" fill="#c8c8c8"/>
<rect x="399.60" y="455.90" width="4.2" height="4.2" fill="#c8c8c8"/>
<rect x="422.40" y="462.90" width="4.2" height="4.2" fill="#c8c8c8"/>
<rect x="442.90" y="452.90" width="4.2" height="4.2" fill="#c8c8c8"/>
<rect x="451.60" y="465.90" width="4.2" height="4.2" fill="#c8c8c8"/>
<rect x="464.10" y="465.90" width="4.2" height="4.2" fill="#c8c8c8"/>
<polyline points="336.00,468.00 336.00,352.50" fill="none" stroke="#111" stroke-width="1.9" stroke-linecap="butt" stroke-linejoin="round" stroke-dasharray="1.8 1.6"/>
<polyline points="336.20,352.50 341.80,458.00" fill="none" stroke="#111" stroke-width="1.9" stroke-linecap="butt" stroke-linejoin="round" stroke-dasharray="1.8 1.6"/>
<polyline points="341.80,458.00 346.80,453.30 357.60,468.00" fill="none" stroke="#111" stroke-width="1.9" stroke-linecap="butt" stroke-linejoin="round" stroke-dasharray="1.8 1.6"/>
<polyline points="358.00,468.00 358.00,443.80" fill="none" stroke="#111" stroke-width="1.9" stroke-linecap="butt" stroke-linejoin="round" stroke-dasharray="1.8 1.6"/>
<polyline points="358.00,443.80 363.60,458.60 379.80,468.70 391.20,460.70 401.70,450.30 424.50,457.50 489.50,468.50" fill="none" stroke="#111" stroke-width="1.9" stroke-linecap="butt" stroke-linejoin="round" stroke-dasharray="1.8 1.6"/>
<circle cx="336.20" cy="352.50" r="2.05" fill="#000"/>
<circle cx="341.80" cy="458.00" r="2.05" fill="#000"/>
<circle cx="346.80" cy="453.30" r="2.05" fill="#000"/>
<circle cx="358.00" cy="443.80" r="2.05" fill="#000"/>
<circle cx="363.60" cy="458.60" r="2.05" fill="#000"/>
<circle cx="379.80" cy="468.70" r="2.05" fill="#000"/>
<circle cx="391.20" cy="460.70" r="2.05" fill="#000"/>
<circle cx="401.70" cy="450.30" r="2.05" fill="#000"/>
<circle cx="424.50" cy="457.50" r="2.05" fill="#000"/>
<circle cx="489.50" cy="468.50" r="2.05" fill="#000"/>
<polygon points="336.20,343.62 333.80,347.94 338.60,347.94" fill="#bc2437"/>
<polygon points="339.40,451.62 337.00,455.94 341.80,455.94" fill="#bc2437"/>
<polygon points="341.80,460.02 339.40,464.34 344.20,464.34" fill="#bc2437"/>
<polygon points="357.90,400.12 355.50,404.44 360.30,404.44" fill="#bc2437"/>
<polygon points="363.60,453.32 361.20,457.64 366.00,457.64" fill="#bc2437"/>
<polygon points="379.80,415.62 377.40,419.94 382.20,419.94" fill="#bc2437"/>
<polygon points="372.40,449.10 373.26,451.41 375.73,451.52 373.80,453.05 374.46,455.43 372.40,454.07 370.34,455.43 371.00,453.05 369.07,451.52 371.54,451.41" fill="#000"/>
<line x1="320.50" y1="337.85" x2="320.50" y2="469.60" stroke="#000" stroke-width="1.8" stroke-linecap="butt"/>
<line x1="317.70" y1="338.45" x2="320.50" y2="338.45" stroke="#000" stroke-width="1.8" stroke-linecap="butt"/>
<text x="317.50" y="342.00" font-size="10" font-weight="bold" text-anchor="end" fill="#000"  stroke="#000" stroke-width="0.3">50</text>
<line x1="317.70" y1="364.50" x2="320.50" y2="364.50" stroke="#000" stroke-width="1.8" stroke-linecap="butt"/>
<text x="317.50" y="368.05" font-size="10" font-weight="bold" text-anchor="end" fill="#000"  stroke="#000" stroke-width="0.3">40</text>
<line x1="317.70" y1="390.55" x2="320.50" y2="390.55" stroke="#000" stroke-width="1.8" stroke-linecap="butt"/>
<text x="317.50" y="394.10" font-size="10" font-weight="bold" text-anchor="end" fill="#000"  stroke="#000" stroke-width="0.3">30</text>
<line x1="317.70" y1="416.60" x2="320.50" y2="416.60" stroke="#000" stroke-width="1.8" stroke-linecap="butt"/>
<text x="317.50" y="420.15" font-size="10" font-weight="bold" text-anchor="end" fill="#000"  stroke="#000" stroke-width="0.3">20</text>
<line x1="317.70" y1="442.65" x2="320.50" y2="442.65" stroke="#000" stroke-width="1.8" stroke-linecap="butt"/>
<text x="317.50" y="446.20" font-size="10" font-weight="bold" text-anchor="end" fill="#000"  stroke="#000" stroke-width="0.3">10</text>
<line x1="317.70" y1="468.70" x2="320.50" y2="468.70" stroke="#000" stroke-width="1.8" stroke-linecap="butt"/>
<text x="317.50" y="472.25" font-size="10" font-weight="bold" text-anchor="end" fill="#000"  stroke="#000" stroke-width="0.3">0</text>
<line x1="319.60" y1="468.70" x2="493.40" y2="468.70" stroke="#000" stroke-width="1.8" stroke-linecap="butt"/>
<line x1="335.60" y1="468.70" x2="335.60" y2="471.50" stroke="#000" stroke-width="1.8" stroke-linecap="butt"/>
<text x="335.60" y="481.20" font-size="10" font-weight="bold" text-anchor="middle" fill="#000"  stroke="#000" stroke-width="0.3">0</text>
<line x1="374.83" y1="468.70" x2="374.83" y2="471.50" stroke="#000" stroke-width="1.8" stroke-linecap="butt"/>
<text x="374.83" y="481.20" font-size="10" font-weight="bold" text-anchor="middle" fill="#000"  stroke="#000" stroke-width="0.3">50</text>
<line x1="414.05" y1="468.70" x2="414.05" y2="471.50" stroke="#000" stroke-width="1.8" stroke-linecap="butt"/>
<text x="414.05" y="481.20" font-size="10" font-weight="bold" text-anchor="middle" fill="#000"  stroke="#000" stroke-width="0.3">100</text>
<line x1="453.28" y1="468.70" x2="453.28" y2="471.50" stroke="#000" stroke-width="1.8" stroke-linecap="butt"/>
<text x="453.28" y="481.20" font-size="10" font-weight="bold" text-anchor="middle" fill="#000"  stroke="#000" stroke-width="0.3">150</text>
<line x1="492.50" y1="468.70" x2="492.50" y2="471.50" stroke="#000" stroke-width="1.8" stroke-linecap="butt"/>
<text x="492.50" y="481.20" font-size="10" font-weight="bold" text-anchor="middle" fill="#000"  stroke="#000" stroke-width="0.3">200</text>
<line x1="492.50" y1="338.00" x2="492.50" y2="469.60" stroke="#000" stroke-width="1.8" stroke-linecap="butt"/>
<line x1="492.50" y1="339.00" x2="495.30" y2="339.00" stroke="#000" stroke-width="1.8" stroke-linecap="butt"/>
<text x="495.40" y="342.55" font-size="10" font-weight="bold" text-anchor="start" fill="#000"  stroke="#000" stroke-width="0.3">60</text>
<line x1="492.50" y1="382.00" x2="495.30" y2="382.00" stroke="#000" stroke-width="1.8" stroke-linecap="butt"/>
<text x="495.40" y="385.55" font-size="10" font-weight="bold" text-anchor="start" fill="#000"  stroke="#000" stroke-width="0.3">40</text>
<line x1="492.50" y1="425.00" x2="495.30" y2="425.00" stroke="#000" stroke-width="1.8" stroke-linecap="butt"/>
<text x="495.40" y="428.55" font-size="10" font-weight="bold" text-anchor="start" fill="#000"  stroke="#000" stroke-width="0.3">20</text>
<line x1="492.50" y1="468.00" x2="495.30" y2="468.00" stroke="#000" stroke-width="1.8" stroke-linecap="butt"/>
<text x="495.40" y="471.55" font-size="10" font-weight="bold" text-anchor="start" fill="#000"  stroke="#000" stroke-width="0.3">0</text>
<line x1="321.50" y1="468.70" x2="336.00" y2="468.70" stroke="#c8c8c8" stroke-width="2.0" stroke-linecap="butt"/>
<rect x="320.40" y="465.40" width="4.2" height="4.2" fill="#c4c4c4"/>
<rect x="333.50" y="466.10" width="4.2" height="4.2" fill="#c4c4c4"/>
<text transform="translate(509.50,327.70) rotate(90)" font-size="9.6" font-weight="bold" fill="#a0a0a0" stroke="#a0a0a0" stroke-width="0.35" textLength="63.40" lengthAdjust="spacingAndGlyphs">% ALL blasts</text>
<text transform="translate(509.50,394.60) rotate(90)" font-size="10" font-weight="bold" fill="#000" stroke="#000" stroke-width="0.35">::</text>
<text transform="translate(509.50,403.70) rotate(90)" font-size="10" font-weight="bold" fill="#c61d30" stroke="#c61d30" stroke-width="0.35" textLength="68.30" lengthAdjust="spacingAndGlyphs">% CD19+ cells</text>
<text x="394.60" y="492.70" font-size="10" font-weight="bold" text-anchor="start" fill="#000"  stroke="#000" stroke-width="0.3">Days</text>
<line x1="335.00" y1="491.00" x2="335.00" y2="501.00" stroke="#000" stroke-width="2.0" stroke-linecap="butt"/>
<polygon points="335.00,488.50 333.25,492.30 336.75,492.30" fill="#000"/>
<line x1="357.40" y1="491.00" x2="357.40" y2="501.00" stroke="#000" stroke-width="2.0" stroke-linecap="butt"/>
<polygon points="357.40,488.50 355.65,492.30 359.15,492.30" fill="#000"/>
<text x="0.50" y="540.60" font-size="16" font-weight="bold" text-anchor="start" fill="#000"  stroke="#000" stroke-width="0.3">E</text>
<line x1="87.20" y1="532.20" x2="87.20" y2="539.10" stroke="#000" stroke-width="1.8" stroke-linecap="butt"/>
<polygon points="87.20,529.70 85.45,533.50 88.95,533.50" fill="#000"/>
<text x="92.90" y="539.00" font-size="10.25" font-weight="normal" text-anchor="start" fill="#000"  stroke="#000" stroke-width="0.18">CTL infusion</text>
<path d="M83.10,546.50 L86.40,544.90 L86.40,548.10 Z" fill="#000"/>
<circle cx="87.20" cy="546.50" r="2.0" fill="#000"/>
<text x="93.30" y="549.70" font-size="10.25" font-weight="normal" text-anchor="start" fill="#000"  stroke="#000" stroke-width="0.18">CD19.CAR</text>
<ellipse cx="87.20" cy="556.70" rx="3.4" ry="2.1" fill="#c4c4c4"/>
<text x="93.30" y="560.10" font-size="10.25" font-weight="normal" text-anchor="start" fill="#000"  stroke="#000" stroke-width="0.18">CD5+ CD19+ CLL</text>
<polygon points="87.50,565.37 85.50,568.97 89.50,568.97" fill="#b0182a"/>
<text x="93.30" y="570.90" font-size="10.25" font-weight="normal" text-anchor="start" fill="#000"  stroke="#000" stroke-width="0.18">% of CD19+ B cells</text>
<polygon points="88.00,574.60 88.89,576.98 91.42,577.09 89.44,578.67 90.12,581.11 88.00,579.71 85.88,581.11 86.56,578.67 84.58,577.09 87.11,576.98" fill="#000"/>
<text x="95.60" y="581.60" font-size="10.25" font-weight="normal" text-anchor="start" fill="#000"  stroke="#000" stroke-width="0.18">off study</text>
<text transform="translate(9.10,668.30) rotate(-90)" font-size="9.3" font-weight="bold" text-anchor="middle" stroke="#000" stroke-width="0.45" textLength="103.4" lengthAdjust="spacingAndGlyphs">CD19 CAR Transgene</text>
<text transform="translate(20.90,668.30) rotate(-90)" font-size="9.3" font-weight="bold" text-anchor="middle" stroke="#000" stroke-width="0.45" textLength="80.6" lengthAdjust="spacingAndGlyphs">Copies/1 µg DNA</text>
<polyline points="39.50,739.00 44.50,689.80 50.70,739.50 56.80,692.50 63.50,739.00 75.00,740.00" fill="none" stroke="#cacaca" stroke-width="2.2" stroke-linecap="butt" stroke-linejoin="round" stroke-dasharray="5 3"/>
<rect x="42.30" y="687.60" width="4.4" height="4.4" fill="#c8c8c8"/>
<rect x="54.60" y="690.30" width="4.4" height="4.4" fill="#c8c8c8"/>
<polyline points="38.30,623.75 41.60,740.00" fill="none" stroke="#111" stroke-width="1.9" stroke-linecap="butt" stroke-linejoin="round" stroke-dasharray="1.8 1.6"/>
<polyline points="41.60,740.00 44.50,729.40 50.75,734.40 57.00,740.20 62.80,731.50 75.30,740.20 149.20,740.00 186.20,734.80" fill="none" stroke="#111" stroke-width="1.9" stroke-linecap="butt" stroke-linejoin="round" stroke-dasharray="1.8 1.6"/>
<circle cx="38.30" cy="623.75" r="2.05" fill="#000"/>
<circle cx="44.50" cy="729.40" r="2.05" fill="#000"/>
<circle cx="50.75" cy="734.40" r="2.05" fill="#000"/>
<circle cx="57.00" cy="740.00" r="2.05" fill="#000"/>
<circle cx="62.80" cy="731.50" r="2.05" fill="#000"/>
<circle cx="75.30" cy="740.00" r="2.05" fill="#000"/>
<circle cx="149.20" cy="740.00" r="2.05" fill="#000"/>
<circle cx="186.20" cy="734.80" r="2.05" fill="#000"/>
<circle cx="41.60" cy="740.00" r="2.05" fill="#000"/>
<polygon points="41.25,659.82 38.85,664.14 43.65,664.14" fill="#bc2437"/>
<polygon points="44.50,683.57 42.10,687.89 46.90,687.89" fill="#bc2437"/>
<line x1="38.00" y1="607.10" x2="38.00" y2="740.90" stroke="#000" stroke-width="1.8" stroke-linecap="butt"/>
<line x1="35.20" y1="608.00" x2="38.00" y2="608.00" stroke="#000" stroke-width="1.8" stroke-linecap="butt"/>
<text x="35.00" y="611.55" font-size="10" font-weight="bold" text-anchor="end" fill="#000"  stroke="#000" stroke-width="0.3">60</text>
<line x1="35.20" y1="652.00" x2="38.00" y2="652.00" stroke="#000" stroke-width="1.8" stroke-linecap="butt"/>
<text x="35.00" y="655.55" font-size="10" font-weight="bold" text-anchor="end" fill="#000"  stroke="#000" stroke-width="0.3">40</text>
<line x1="35.20" y1="696.00" x2="38.00" y2="696.00" stroke="#000" stroke-width="1.8" stroke-linecap="butt"/>
<text x="35.00" y="699.55" font-size="10" font-weight="bold" text-anchor="end" fill="#000"  stroke="#000" stroke-width="0.3">20</text>
<line x1="35.20" y1="740.00" x2="38.00" y2="740.00" stroke="#000" stroke-width="1.8" stroke-linecap="butt"/>
<text x="35.00" y="743.55" font-size="10" font-weight="bold" text-anchor="end" fill="#000"  stroke="#000" stroke-width="0.3">0</text>
<line x1="37.10" y1="740.00" x2="215.40" y2="740.00" stroke="#000" stroke-width="1.8" stroke-linecap="butt"/>
<line x1="37.50" y1="740.00" x2="37.50" y2="742.80" stroke="#000" stroke-width="1.8" stroke-linecap="butt"/>
<text x="37.50" y="752.50" font-size="10" font-weight="bold" text-anchor="middle" fill="#000"  stroke="#000" stroke-width="0.3">0</text>
<line x1="82.00" y1="740.00" x2="82.00" y2="742.80" stroke="#000" stroke-width="1.8" stroke-linecap="butt"/>
<text x="82.00" y="752.50" font-size="10" font-weight="bold" text-anchor="middle" fill="#000"  stroke="#000" stroke-width="0.3">100</text>
<line x1="126.50" y1="740.00" x2="126.50" y2="742.80" stroke="#000" stroke-width="1.8" stroke-linecap="butt"/>
<text x="126.50" y="752.50" font-size="10" font-weight="bold" text-anchor="middle" fill="#000"  stroke="#000" stroke-width="0.3">200</text>
<line x1="171.00" y1="740.00" x2="171.00" y2="742.80" stroke="#000" stroke-width="1.8" stroke-linecap="butt"/>
<text x="171.00" y="752.50" font-size="10" font-weight="bold" text-anchor="middle" fill="#000"  stroke="#000" stroke-width="0.3">300</text>
<line x1="215.50" y1="740.00" x2="215.50" y2="742.80" stroke="#000" stroke-width="1.8" stroke-linecap="butt"/>
<text x="215.50" y="752.50" font-size="10" font-weight="bold" text-anchor="middle" fill="#000"  stroke="#000" stroke-width="0.3">400</text>
<line x1="214.50" y1="606.80" x2="214.50" y2="740.90" stroke="#000" stroke-width="1.8" stroke-linecap="butt"/>
<line x1="214.50" y1="607.70" x2="217.30" y2="607.70" stroke="#000" stroke-width="1.8" stroke-linecap="butt"/>
<text x="217.40" y="611.25" font-size="10" font-weight="bold" text-anchor="start" fill="#000"  stroke="#000" stroke-width="0.3">100</text>
<line x1="214.50" y1="634.16" x2="217.30" y2="634.16" stroke="#000" stroke-width="1.8" stroke-linecap="butt"/>
<text x="217.40" y="637.71" font-size="10" font-weight="bold" text-anchor="start" fill="#000"  stroke="#000" stroke-width="0.3">80</text>
<line x1="214.50" y1="660.62" x2="217.30" y2="660.62" stroke="#000" stroke-width="1.8" stroke-linecap="butt"/>
<text x="217.40" y="664.17" font-size="10" font-weight="bold" text-anchor="start" fill="#000"  stroke="#000" stroke-width="0.3">60</text>
<line x1="214.50" y1="687.08" x2="217.30" y2="687.08" stroke="#000" stroke-width="1.8" stroke-linecap="butt"/>
<text x="217.40" y="690.63" font-size="10" font-weight="bold" text-anchor="start" fill="#000"  stroke="#000" stroke-width="0.3">40</text>
<line x1="214.50" y1="713.54" x2="217.30" y2="713.54" stroke="#000" stroke-width="1.8" stroke-linecap="butt"/>
<text x="217.40" y="717.09" font-size="10" font-weight="bold" text-anchor="start" fill="#000"  stroke="#000" stroke-width="0.3">20</text>
<line x1="214.50" y1="740.00" x2="217.30" y2="740.00" stroke="#000" stroke-width="1.8" stroke-linecap="butt"/>
<text x="217.40" y="743.55" font-size="10" font-weight="bold" text-anchor="start" fill="#000"  stroke="#000" stroke-width="0.3">0</text>
<line x1="46.50" y1="740.00" x2="186.00" y2="740.00" stroke="#dcd4d4" stroke-width="2.0" stroke-linecap="butt"/>
<polyline points="57.00,740.00 186.00,740.00" fill="none" stroke="#111" stroke-width="1.9" stroke-linecap="butt" stroke-linejoin="round" stroke-dasharray="1.8 2.4"/>
<circle cx="57.00" cy="740.00" r="2.05" fill="#000"/>
<circle cx="75.30" cy="740.00" r="2.05" fill="#000"/>
<circle cx="149.20" cy="740.00" r="2.05" fill="#000"/>
<polygon points="50.30,737.14 48.10,741.10 52.50,741.10" fill="#c02840"/>
<polygon points="62.80,737.14 60.60,741.10 65.00,741.10" fill="#c02840"/>
<polygon points="186.20,737.14 184.00,741.10 188.40,741.10" fill="#c02840"/>
<text transform="translate(235.40,581.90) rotate(90)" font-size="9.3" font-weight="normal" fill="#ababab" stroke="#ababab" stroke-width="0.25" textLength="94.30" lengthAdjust="spacingAndGlyphs">% CD5+CD19+ CLL</text>
<text transform="translate(235.40,679.50) rotate(90)" font-size="10" font-weight="bold" fill="#000" stroke="#000" stroke-width="0.35">::</text>
<text transform="translate(235.40,688.50) rotate(90)" font-size="10" font-weight="bold" fill="#c61d30" stroke="#c61d30" stroke-width="0.35" textLength="69.90" lengthAdjust="spacingAndGlyphs">% CD19+ cells</text>
<text x="113.80" y="764.60" font-size="10" font-weight="bold" text-anchor="start" fill="#000"  stroke="#000" stroke-width="0.3">Days</text>
<line x1="38.30" y1="758.50" x2="38.30" y2="768.70" stroke="#000" stroke-width="2.0" stroke-linecap="butt"/>
<polygon points="38.30,756.00 36.55,759.80 40.05,759.80" fill="#000"/>
<text x="277.10" y="540.50" font-size="16" font-weight="bold" text-anchor="start" fill="#000"  stroke="#000" stroke-width="0.3">F</text>
<line x1="365.20" y1="530.30" x2="365.20" y2="537.20" stroke="#000" stroke-width="1.8" stroke-linecap="butt"/>
<polygon points="365.20,527.80 363.45,531.60 366.95,531.60" fill="#000"/>
<text x="371.60" y="537.10" font-size="10.25" font-weight="normal" text-anchor="start" fill="#000"  stroke="#000" stroke-width="0.18">CTL infusion</text>
<path d="M360.50,544.90 L363.80,543.30 L363.80,546.50 Z" fill="#000"/>
<circle cx="364.60" cy="544.90" r="2.0" fill="#000"/>
<text x="371.30" y="548.30" font-size="10.25" font-weight="normal" text-anchor="start" fill="#000"  stroke="#000" stroke-width="0.18">CD19.CAR</text>
<ellipse cx="364.30" cy="556.80" rx="3.4" ry="2.1" fill="#c4c4c4"/>
<text x="370.70" y="559.30" font-size="10.25" font-weight="normal" text-anchor="start" fill="#000"  stroke="#000" stroke-width="0.18">CD5+ CD19+ CLL</text>
<polygon points="364.90,566.97 362.90,570.57 366.90,570.57" fill="#b0182a"/>
<text x="370.90" y="571.40" font-size="10.25" font-weight="normal" text-anchor="start" fill="#000"  stroke="#000" stroke-width="0.18">% of CD19+ B cells</text>
<polygon points="366.70,576.40 367.59,578.78 370.12,578.89 368.14,580.47 368.82,582.91 366.70,581.51 364.58,582.91 365.26,580.47 363.28,578.89 365.81,578.78" fill="#000"/>
<text x="374.10" y="582.90" font-size="10.25" font-weight="normal" text-anchor="start" fill="#000"  stroke="#000" stroke-width="0.18">off study</text>
<text transform="translate(287.50,666.40) rotate(-90)" font-size="9.3" font-weight="bold" text-anchor="middle" stroke="#000" stroke-width="0.45" textLength="103.4" lengthAdjust="spacingAndGlyphs">CD19 CAR Transgene</text>
<text transform="translate(299.30,666.40) rotate(-90)" font-size="9.3" font-weight="bold" text-anchor="middle" stroke="#000" stroke-width="0.45" textLength="80.6" lengthAdjust="spacingAndGlyphs">Copies/1 µg DNA</text>
<polyline points="320.50,700.00 345.00,688.00 361.70,671.60 369.20,710.50 377.70,639.50 386.10,696.00 402.50,635.50 419.50,621.25 435.00,617.50 468.75,612.50" fill="none" stroke="#cacaca" stroke-width="2.2" stroke-linecap="butt" stroke-linejoin="round" stroke-dasharray="5 3"/>
<rect x="318.30" y="697.80" width="4.4" height="4.4" fill="#c8c8c8"/>
<rect x="359.50" y="669.40" width="4.4" height="4.4" fill="#c8c8c8"/>
<rect x="367.00" y="708.30" width="4.4" height="4.4" fill="#c8c8c8"/>
<rect x="383.90" y="693.80" width="4.4" height="4.4" fill="#c8c8c8"/>
<rect x="400.30" y="633.30" width="4.4" height="4.4" fill="#c8c8c8"/>
<rect x="417.30" y="619.05" width="4.4" height="4.4" fill="#c8c8c8"/>
<rect x="432.80" y="615.30" width="4.4" height="4.4" fill="#c8c8c8"/>
<rect x="466.55" y="610.30" width="4.4" height="4.4" fill="#c8c8c8"/>
<rect x="375.40" y="637.20" width="4.6" height="4.6" fill="#d4c2c6"/>
<polyline points="312.80,736.50 312.80,610.00" fill="none" stroke="#111" stroke-width="1.9" stroke-linecap="butt" stroke-linejoin="round" stroke-dasharray="1.8 1.6"/>
<polyline points="312.80,610.00 320.00,737.00" fill="none" stroke="#111" stroke-width="1.9" stroke-linecap="butt" stroke-linejoin="round" stroke-dasharray="1.8 1.6"/>
<polyline points="328.75,737.00 345.50,683.75 361.70,737.00" fill="none" stroke="#111" stroke-width="1.9" stroke-linecap="butt" stroke-linejoin="round" stroke-dasharray="1.8 1.6"/>
<polyline points="369.80,737.00 369.80,668.75" fill="none" stroke="#111" stroke-width="1.9" stroke-linecap="butt" stroke-linejoin="round" stroke-dasharray="1.8 1.6"/>
<polyline points="369.80,668.75 377.70,737.00" fill="none" stroke="#111" stroke-width="1.9" stroke-linecap="butt" stroke-linejoin="round" stroke-dasharray="1.8 1.6"/>
<circle cx="312.80" cy="610.00" r="2.05" fill="#000"/>
<circle cx="345.50" cy="683.75" r="2.05" fill="#000"/>
<circle cx="369.80" cy="668.75" r="2.05" fill="#000"/>
<circle cx="320.00" cy="737.00" r="2.05" fill="#000"/>
<circle cx="328.75" cy="737.00" r="2.05" fill="#000"/>
<circle cx="361.70" cy="737.00" r="2.05" fill="#000"/>
<circle cx="369.80" cy="737.00" r="2.05" fill="#000"/>
<circle cx="377.70" cy="737.00" r="2.05" fill="#000"/>
<circle cx="386.10" cy="737.00" r="2.05" fill="#000"/>
<circle cx="403.00" cy="737.00" r="2.05" fill="#000"/>
<circle cx="419.50" cy="737.00" r="2.05" fill="#000"/>
<circle cx="435.00" cy="737.00" r="2.05" fill="#000"/>
<circle cx="468.75" cy="737.00" r="2.05" fill="#000"/>
<polygon points="320.50,648.07 318.10,652.39 322.90,652.39" fill="#bc2437"/>
<polygon points="328.75,730.82 326.35,735.14 331.15,735.14" fill="#bc2437"/>
<polygon points="345.40,731.12 343.00,735.44 347.80,735.44" fill="#bc2437"/>
<polygon points="369.80,727.32 367.40,731.64 372.20,731.64" fill="#bc2437"/>
<polygon points="386.10,732.32 383.70,736.64 388.50,736.64" fill="#bc2437"/>
<polygon points="402.50,716.82 400.10,721.14 404.90,721.14" fill="#bc2437"/>
<polygon points="419.50,723.32 417.10,727.64 421.90,727.64" fill="#bc2437"/>
<polygon points="435.00,725.82 432.60,730.14 437.40,730.14" fill="#bc2437"/>
<line x1="312.50" y1="603.60" x2="312.50" y2="737.90" stroke="#000" stroke-width="1.8" stroke-linecap="butt"/>
<line x1="309.70" y1="604.52" x2="312.50" y2="604.52" stroke="#000" stroke-width="1.8" stroke-linecap="butt"/>
<text x="309.50" y="608.07" font-size="10" font-weight="bold" text-anchor="end" fill="#000"  stroke="#000" stroke-width="0.3">8</text>
<line x1="309.70" y1="637.64" x2="312.50" y2="637.64" stroke="#000" stroke-width="1.8" stroke-linecap="butt"/>
<text x="309.50" y="641.19" font-size="10" font-weight="bold" text-anchor="end" fill="#000"  stroke="#000" stroke-width="0.3">6</text>
<line x1="309.70" y1="670.76" x2="312.50" y2="670.76" stroke="#000" stroke-width="1.8" stroke-linecap="butt"/>
<text x="309.50" y="674.31" font-size="10" font-weight="bold" text-anchor="end" fill="#000"  stroke="#000" stroke-width="0.3">4</text>
<line x1="309.70" y1="703.88" x2="312.50" y2="703.88" stroke="#000" stroke-width="1.8" stroke-linecap="butt"/>
<text x="309.50" y="707.43" font-size="10" font-weight="bold" text-anchor="end" fill="#000"  stroke="#000" stroke-width="0.3">2</text>
<line x1="309.70" y1="737.00" x2="312.50" y2="737.00" stroke="#000" stroke-width="1.8" stroke-linecap="butt"/>
<text x="309.50" y="740.55" font-size="10" font-weight="bold" text-anchor="end" fill="#000"  stroke="#000" stroke-width="0.3">0</text>
<line x1="311.60" y1="737.00" x2="489.65" y2="737.00" stroke="#000" stroke-width="1.8" stroke-linecap="butt"/>
<line x1="312.50" y1="737.00" x2="312.50" y2="739.80" stroke="#000" stroke-width="1.8" stroke-linecap="butt"/>
<text x="312.50" y="749.50" font-size="10" font-weight="bold" text-anchor="middle" fill="#000"  stroke="#000" stroke-width="0.3">0</text>
<line x1="370.85" y1="737.00" x2="370.85" y2="739.80" stroke="#000" stroke-width="1.8" stroke-linecap="butt"/>
<text x="370.85" y="749.50" font-size="10" font-weight="bold" text-anchor="middle" fill="#000"  stroke="#000" stroke-width="0.3">50</text>
<line x1="429.20" y1="737.00" x2="429.20" y2="739.80" stroke="#000" stroke-width="1.8" stroke-linecap="butt"/>
<text x="429.20" y="749.50" font-size="10" font-weight="bold" text-anchor="middle" fill="#000"  stroke="#000" stroke-width="0.3">100</text>
<line x1="487.55" y1="737.00" x2="487.55" y2="739.80" stroke="#000" stroke-width="1.8" stroke-linecap="butt"/>
<text x="487.55" y="749.50" font-size="10" font-weight="bold" text-anchor="middle" fill="#000"  stroke="#000" stroke-width="0.3">150</text>
<line x1="488.75" y1="603.60" x2="488.75" y2="737.90" stroke="#000" stroke-width="1.8" stroke-linecap="butt"/>
<line x1="488.75" y1="604.50" x2="491.55" y2="604.50" stroke="#000" stroke-width="1.8" stroke-linecap="butt"/>
<text x="491.65" y="608.05" font-size="10" font-weight="bold" text-anchor="start" fill="#000"  stroke="#000" stroke-width="0.3">100</text>
<line x1="488.75" y1="631.00" x2="491.55" y2="631.00" stroke="#000" stroke-width="1.8" stroke-linecap="butt"/>
<text x="491.65" y="634.55" font-size="10" font-weight="bold" text-anchor="start" fill="#000"  stroke="#000" stroke-width="0.3">80</text>
<line x1="488.75" y1="657.50" x2="491.55" y2="657.50" stroke="#000" stroke-width="1.8" stroke-linecap="butt"/>
<text x="491.65" y="661.05" font-size="10" font-weight="bold" text-anchor="start" fill="#000"  stroke="#000" stroke-width="0.3">60</text>
<line x1="488.75" y1="684.00" x2="491.55" y2="684.00" stroke="#000" stroke-width="1.8" stroke-linecap="butt"/>
<text x="491.65" y="687.55" font-size="10" font-weight="bold" text-anchor="start" fill="#000"  stroke="#000" stroke-width="0.3">40</text>
<line x1="488.75" y1="710.50" x2="491.55" y2="710.50" stroke="#000" stroke-width="1.8" stroke-linecap="butt"/>
<text x="491.65" y="714.05" font-size="10" font-weight="bold" text-anchor="start" fill="#000"  stroke="#000" stroke-width="0.3">20</text>
<line x1="488.75" y1="737.00" x2="491.55" y2="737.00" stroke="#000" stroke-width="1.8" stroke-linecap="butt"/>
<text x="491.65" y="740.55" font-size="10" font-weight="bold" text-anchor="start" fill="#000"  stroke="#000" stroke-width="0.3">0</text>
<polygon points="473.80,742.70 474.66,745.01 477.13,745.12 475.20,746.65 475.86,749.03 473.80,747.67 471.74,749.03 472.40,746.65 470.47,745.12 472.94,745.01" fill="#000"/>
<text transform="translate(510.70,578.30) rotate(90)" font-size="9.3" font-weight="normal" fill="#ababab" stroke="#ababab" stroke-width="0.25" textLength="94.50" lengthAdjust="spacingAndGlyphs">% CD5+CD19+ CLL</text>
<text transform="translate(510.70,676.30) rotate(90)" font-size="10" font-weight="bold" fill="#000" stroke="#000" stroke-width="0.35">::</text>
<text transform="translate(510.70,685.30) rotate(90)" font-size="10" font-weight="bold" fill="#c61d30" stroke="#c61d30" stroke-width="0.35" textLength="70.10" lengthAdjust="spacingAndGlyphs">% CD19+ cells</text>
<text x="388.70" y="763.80" font-size="10" font-weight="bold" text-anchor="start" fill="#000"  stroke="#000" stroke-width="0.3">Days</text>
<line x1="311.80" y1="752.70" x2="311.80" y2="761.50" stroke="#000" stroke-width="2.0" stroke-linecap="butt"/>
<polygon points="311.80,750.20 310.05,754.00 313.55,754.00" fill="#000"/>
<line x1="368.40" y1="752.70" x2="368.40" y2="761.50" stroke="#000" stroke-width="2.0" stroke-linecap="butt"/>
<polygon points="368.40,750.20 366.65,754.00 370.15,754.00" fill="#000"/>
</svg>
</body></html>
